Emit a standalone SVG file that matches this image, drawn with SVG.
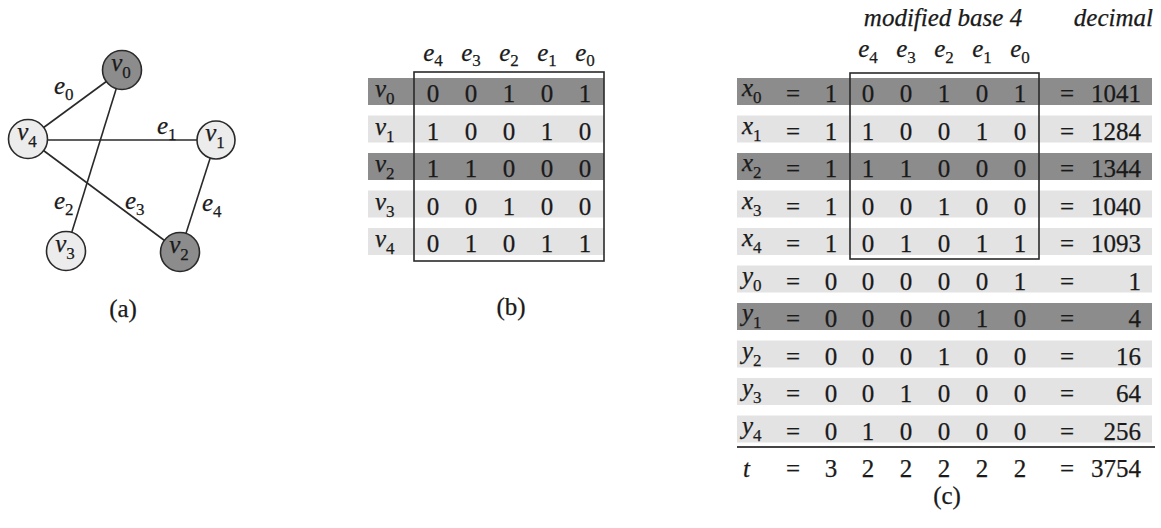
<svg xmlns="http://www.w3.org/2000/svg" width="1161" height="528" viewBox="0 0 1161 528">
<style>
text{font-family:"Liberation Serif","Times New Roman",serif;font-size:25px;fill:#1a1a1a;stroke:#1a1a1a;stroke-width:0.25}
.it{font-style:italic}
.sub{font-size:17px;font-style:normal}
.m{text-anchor:middle}
.r{text-anchor:end}
.edge{stroke:#2a2a2a;stroke-width:1.6;fill:none}
.nd{stroke:#2a2a2a;stroke-width:1.6}
.dk{fill:#8c8c8c}
.lt{fill:#e3e3e3}
.box{fill:none;stroke:#2a2a2a;stroke-width:1.6}
</style>
<rect width="1161" height="528" fill="#fff"/>
<!-- (a) graph -->
<g id="connectors">
<line class="edge" x1="28" y1="139" x2="122" y2="70"/>
<line class="edge" x1="28" y1="140" x2="216" y2="140"/>
<line class="edge" x1="122" y1="70" x2="66" y2="251"/>
<line class="edge" x1="28" y1="139" x2="180" y2="252"/>
<line class="edge" x1="216" y1="140" x2="180" y2="252"/>
<text x="54" y="94"><tspan class="it">e</tspan><tspan class="sub" dy="6">0</tspan></text>
<text x="157" y="134"><tspan class="it">e</tspan><tspan class="sub" dy="6">1</tspan></text>
<text x="54" y="209"><tspan class="it">e</tspan><tspan class="sub" dy="6">2</tspan></text>
<text x="125" y="209"><tspan class="it">e</tspan><tspan class="sub" dy="6">3</tspan></text>
<text x="202" y="211"><tspan class="it">e</tspan><tspan class="sub" dy="6">4</tspan></text>
</g>
<g id="v0"><circle class="nd dk" cx="122" cy="70" r="19.5"/><text class="m" x="121" y="71"><tspan class="it">v</tspan><tspan class="sub" dy="7">0</tspan></text></g>
<g id="v1"><circle class="nd" fill="#ececec" cx="216" cy="140" r="19"/><text class="m" x="215" y="141"><tspan class="it">v</tspan><tspan class="sub" dy="7">1</tspan></text></g>
<g id="v2"><circle class="nd dk" cx="180" cy="252" r="19.5"/><text class="m" x="179" y="253"><tspan class="it">v</tspan><tspan class="sub" dy="7">2</tspan></text></g>
<g id="v3"><circle class="nd" fill="#ececec" cx="66" cy="251" r="19.5"/><text class="m" x="65" y="252"><tspan class="it">v</tspan><tspan class="sub" dy="7">3</tspan></text></g>
<g id="v4"><circle class="nd" fill="#ececec" cx="28" cy="139" r="19.5"/><text class="m" x="27" y="140"><tspan class="it">v</tspan><tspan class="sub" dy="7">4</tspan></text></g>
<text class="m" x="123" y="317">(a)</text>

<!-- (b) matrix -->
<g id="tableB">
<rect class="dk" x="368" y="78" width="236" height="27"/>
<rect class="lt" x="368" y="115.5" width="236" height="27"/>
<rect class="dk" x="368" y="153" width="236" height="27"/>
<rect class="lt" x="368" y="190.5" width="236" height="27"/>
<rect class="lt" x="368" y="228" width="236" height="27"/>
<rect class="box" x="414" y="72" width="190" height="189"/>
<g class="m">
<text x="433" y="61"><tspan class="it">e</tspan><tspan class="sub" dy="5">4</tspan></text>
<text x="471" y="61"><tspan class="it">e</tspan><tspan class="sub" dy="5">3</tspan></text>
<text x="509" y="61"><tspan class="it">e</tspan><tspan class="sub" dy="5">2</tspan></text>
<text x="547" y="61"><tspan class="it">e</tspan><tspan class="sub" dy="5">1</tspan></text>
<text x="585" y="61"><tspan class="it">e</tspan><tspan class="sub" dy="5">0</tspan></text>
</g>
<text x="375" y="97"><tspan class="it">v</tspan><tspan class="sub" dy="7">0</tspan></text>
<text x="375" y="134.5"><tspan class="it">v</tspan><tspan class="sub" dy="7">1</tspan></text>
<text x="375" y="172"><tspan class="it">v</tspan><tspan class="sub" dy="7">2</tspan></text>
<text x="375" y="209.5"><tspan class="it">v</tspan><tspan class="sub" dy="7">3</tspan></text>
<text x="375" y="247"><tspan class="it">v</tspan><tspan class="sub" dy="7">4</tspan></text>
<g class="m">
<text x="433" y="102">0</text><text x="471" y="102">0</text><text x="509" y="102">1</text><text x="547" y="102">0</text><text x="585" y="102">1</text>
<text x="433" y="139.5">1</text><text x="471" y="139.5">0</text><text x="509" y="139.5">0</text><text x="547" y="139.5">1</text><text x="585" y="139.5">0</text>
<text x="433" y="177">1</text><text x="471" y="177">1</text><text x="509" y="177">0</text><text x="547" y="177">0</text><text x="585" y="177">0</text>
<text x="433" y="214.5">0</text><text x="471" y="214.5">0</text><text x="509" y="214.5">1</text><text x="547" y="214.5">0</text><text x="585" y="214.5">0</text>
<text x="433" y="252">0</text><text x="471" y="252">1</text><text x="509" y="252">0</text><text x="547" y="252">1</text><text x="585" y="252">1</text>
</g>
<text class="m" x="511" y="315">(b)</text>
</g>

<!-- (c) numbers -->
<g id="tableC">
<rect class="dk" x="737" y="78" width="415" height="27"/>
<rect class="lt" x="737" y="115.5" width="415" height="27"/>
<rect class="dk" x="737" y="153" width="415" height="27"/>
<rect class="lt" x="737" y="190.5" width="415" height="27"/>
<rect class="lt" x="737" y="228" width="415" height="27"/>
<rect class="lt" x="737" y="265.5" width="415" height="27"/>
<rect class="dk" x="737" y="303" width="415" height="27"/>
<rect class="lt" x="737" y="340.5" width="415" height="27"/>
<rect class="lt" x="737" y="378" width="415" height="27"/>
<rect class="lt" x="737" y="415.5" width="415" height="27"/>
<rect class="box" x="850" y="73" width="189" height="186"/>
<line x1="737" y1="447" x2="1155" y2="447" stroke="#444" stroke-width="2"/>
<text class="it m" x="943" y="26">modified base 4</text>
<text class="it r" x="1153" y="26">decimal</text>
<g class="m">
<text x="868" y="57"><tspan class="it">e</tspan><tspan class="sub" dy="6">4</tspan></text>
<text x="906" y="57"><tspan class="it">e</tspan><tspan class="sub" dy="6">3</tspan></text>
<text x="944" y="57"><tspan class="it">e</tspan><tspan class="sub" dy="6">2</tspan></text>
<text x="982" y="57"><tspan class="it">e</tspan><tspan class="sub" dy="6">1</tspan></text>
<text x="1020" y="57"><tspan class="it">e</tspan><tspan class="sub" dy="6">0</tspan></text>
</g>
<text x="742" y="96"><tspan class="it">x</tspan><tspan class="sub" dy="7">0</tspan></text>
<text x="742" y="133.5"><tspan class="it">x</tspan><tspan class="sub" dy="7">1</tspan></text>
<text x="742" y="171"><tspan class="it">x</tspan><tspan class="sub" dy="7">2</tspan></text>
<text x="742" y="208.5"><tspan class="it">x</tspan><tspan class="sub" dy="7">3</tspan></text>
<text x="742" y="246"><tspan class="it">x</tspan><tspan class="sub" dy="7">4</tspan></text>
<text x="742" y="283.5"><tspan class="it">y</tspan><tspan class="sub" dy="7">0</tspan></text>
<text x="742" y="321"><tspan class="it">y</tspan><tspan class="sub" dy="7">1</tspan></text>
<text x="742" y="358.5"><tspan class="it">y</tspan><tspan class="sub" dy="7">2</tspan></text>
<text x="742" y="396"><tspan class="it">y</tspan><tspan class="sub" dy="7">3</tspan></text>
<text x="742" y="433.5"><tspan class="it">y</tspan><tspan class="sub" dy="7">4</tspan></text>
<text class="it" x="743" y="477">t</text>
<g class="m">
<text x="793" y="102">=</text><text x="831" y="102">1</text><text x="868" y="102">0</text><text x="906" y="102">0</text><text x="944" y="102">1</text><text x="982" y="102">0</text><text x="1020" y="102">1</text><text x="1067" y="102">=</text>
<text x="793" y="139.5">=</text><text x="831" y="139.5">1</text><text x="868" y="139.5">1</text><text x="906" y="139.5">0</text><text x="944" y="139.5">0</text><text x="982" y="139.5">1</text><text x="1020" y="139.5">0</text><text x="1067" y="139.5">=</text>
<text x="793" y="177">=</text><text x="831" y="177">1</text><text x="868" y="177">1</text><text x="906" y="177">1</text><text x="944" y="177">0</text><text x="982" y="177">0</text><text x="1020" y="177">0</text><text x="1067" y="177">=</text>
<text x="793" y="214.5">=</text><text x="831" y="214.5">1</text><text x="868" y="214.5">0</text><text x="906" y="214.5">0</text><text x="944" y="214.5">1</text><text x="982" y="214.5">0</text><text x="1020" y="214.5">0</text><text x="1067" y="214.5">=</text>
<text x="793" y="252">=</text><text x="831" y="252">1</text><text x="868" y="252">0</text><text x="906" y="252">1</text><text x="944" y="252">0</text><text x="982" y="252">1</text><text x="1020" y="252">1</text><text x="1067" y="252">=</text>
<text x="793" y="289.5">=</text><text x="831" y="289.5">0</text><text x="868" y="289.5">0</text><text x="906" y="289.5">0</text><text x="944" y="289.5">0</text><text x="982" y="289.5">0</text><text x="1020" y="289.5">1</text><text x="1067" y="289.5">=</text>
<text x="793" y="327">=</text><text x="831" y="327">0</text><text x="868" y="327">0</text><text x="906" y="327">0</text><text x="944" y="327">0</text><text x="982" y="327">1</text><text x="1020" y="327">0</text><text x="1067" y="327">=</text>
<text x="793" y="364.5">=</text><text x="831" y="364.5">0</text><text x="868" y="364.5">0</text><text x="906" y="364.5">0</text><text x="944" y="364.5">1</text><text x="982" y="364.5">0</text><text x="1020" y="364.5">0</text><text x="1067" y="364.5">=</text>
<text x="793" y="402">=</text><text x="831" y="402">0</text><text x="868" y="402">0</text><text x="906" y="402">1</text><text x="944" y="402">0</text><text x="982" y="402">0</text><text x="1020" y="402">0</text><text x="1067" y="402">=</text>
<text x="793" y="439.5">=</text><text x="831" y="439.5">0</text><text x="868" y="439.5">1</text><text x="906" y="439.5">0</text><text x="944" y="439.5">0</text><text x="982" y="439.5">0</text><text x="1020" y="439.5">0</text><text x="1067" y="439.5">=</text>
<text x="793" y="477">=</text><text x="831" y="477">3</text><text x="868" y="477">2</text><text x="906" y="477">2</text><text x="944" y="477">2</text><text x="982" y="477">2</text><text x="1020" y="477">2</text><text x="1067" y="477">=</text>
</g>
<g class="r">
<text x="1141" y="102">1041</text>
<text x="1141" y="139.5">1284</text>
<text x="1141" y="177">1344</text>
<text x="1141" y="214.5">1040</text>
<text x="1141" y="252">1093</text>
<text x="1141" y="289.5">1</text>
<text x="1141" y="327">4</text>
<text x="1141" y="364.5">16</text>
<text x="1141" y="402">64</text>
<text x="1141" y="439.5">256</text>
<text x="1141" y="477">3754</text>
</g>
<text class="m" x="947" y="504">(c)</text>
</g>
</svg>
